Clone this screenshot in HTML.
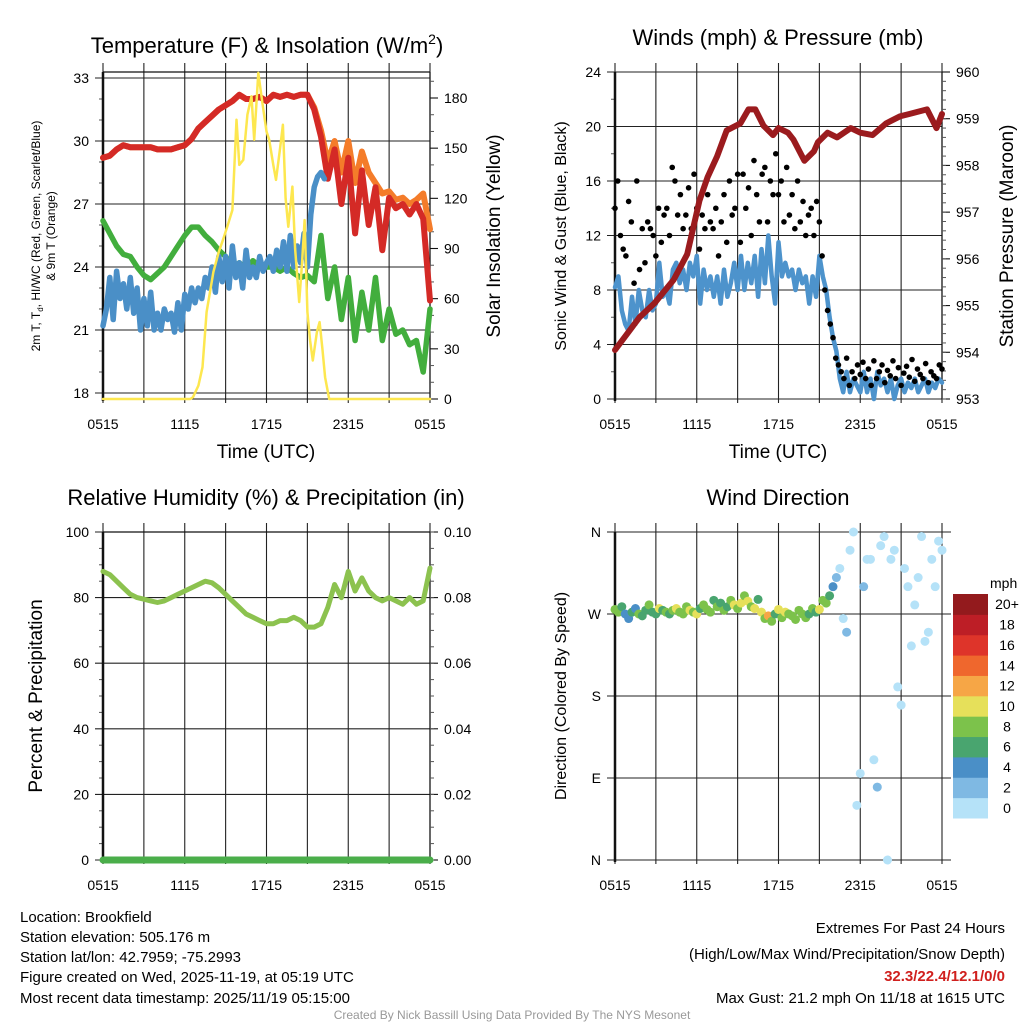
<!DOCTYPE html>
<html><head><meta charset="utf-8">
<style>
html,body{margin:0;padding:0;background:#fff;}
svg{display:block;font-family:"Liberation Sans",Arial,sans-serif;}
</style></head>
<body>
<svg id="fig" width="1024" height="1024" viewBox="0 0 1024 1024" xmlns="http://www.w3.org/2000/svg">
<rect width="1024" height="1024" fill="#fff"/>
<g id="p1"></g>
<g id="p2"></g>
<g id="p3"></g>
<g id="p4"></g>

<text x="267" y="53" font-size="22" text-anchor="middle">Temperature (F) &amp; Insolation (W/m<tspan dy="-9" font-size="14">2</tspan><tspan dy="9">)</tspan></text>
<text x="778" y="45" font-size="22" text-anchor="middle">Winds (mph) &amp; Pressure (mb)</text>
<text x="266" y="505" font-size="22" text-anchor="middle">Relative Humidity (%) &amp; Precipitation (in)</text>
<text x="778" y="505" font-size="22" text-anchor="middle">Wind Direction</text>

<text x="266" y="458" font-size="19" text-anchor="middle">Time (UTC)</text>
<text x="778" y="458" font-size="19" text-anchor="middle">Time (UTC)</text>

<g font-size="12" text-anchor="middle">
<text transform="translate(40,236) rotate(-90)">2m T, T<tspan font-size="8" dy="3">d</tspan><tspan dy="-3">, HI/WC (Red, Green, Scarlet/Blue)</tspan></text>
<text transform="translate(55,236) rotate(-90)">&amp; 9m T (Orange)</text>
</g>
<text transform="translate(500,236) rotate(-90)" font-size="19" text-anchor="middle">Solar Insolation (Yellow)</text>
<text transform="translate(566,236) rotate(-90)" font-size="16" text-anchor="middle">Sonic Wind &amp; Gust (Blue, Black)</text>
<text transform="translate(1013,236) rotate(-90)" font-size="19" text-anchor="middle">Station Pressure (Maroon)</text>
<text transform="translate(42,696) rotate(-90)" font-size="19" text-anchor="middle">Percent &amp; Precipitation</text>
<text transform="translate(566,696) rotate(-90)" font-size="16" text-anchor="middle">Direction (Colored By Speed)</text>

<g font-size="15">
<text x="20" y="922">Location: Brookfield</text>
<text x="20" y="942">Station elevation: 505.176 m</text>
<text x="20" y="962">Station lat/lon: 42.7959; -75.2993</text>
<text x="20" y="982">Figure created on Wed, 2025-11-19, at 05:19 UTC</text>
<text x="20" y="1003">Most recent data timestamp: 2025/11/19 05:15:00</text>
</g>
<g font-size="15" text-anchor="end">
<text x="1005" y="933">Extremes For Past 24 Hours</text>
<text x="1005" y="959">(High/Low/Max Wind/Precipitation/Snow Depth)</text>
<text x="1005" y="981" fill="#d0201e" font-weight="bold">32.3/22.4/12.1/0/0</text>
<text x="1005" y="1003">Max Gust: 21.2 mph On 11/18 at 1615 UTC</text>
</g>
<text x="512" y="1019" font-size="12" fill="#999" text-anchor="middle">Created By Nick Bassill Using Data Provided By The NYS Mesonet</text>
<g id="cbar"></g>
</svg>
<script>
// ---------- data ----------
const xTickLabels = ["0515","1115","1715","2315","0515"];
const tempTicks = [18,21,24,27,30,33];
const insolTicks = [0,30,60,90,120,150,180];
const windTicks = [0,4,8,12,16,20,24];
const presTicks = [953,954,955,956,957,958,959,960];
const rhTicks = [0,20,40,60,80,100];
const precipTicks = ["0.00","0.02","0.04","0.06","0.08","0.10"];
const dirTickLabels = ["N","E","S","W","N"];
const speedBinLabels = ["0","2","4","6","8","10","12","14","16","18","20+"];

// temperatures, evenly spaced over 24 h
const tempRed = [29.2,29.3,29.6,29.8,29.7,29.7,29.7,29.7,29.6,29.6,29.6,29.7,29.8,30.1,30.6,30.9,31.2,31.5,31.7,31.9,32.2,32.0,32.0,32.1,31.9,32.2,32.1,32.2,32.1,32.2,32.2,31.5,30.2,28.2,29.6,27.0,29.2,25.6,28.6,26.0,27.8,24.8,27.3,26.8,27.0,26.5,27.0,26.3,22.4];
const temp9m = [29.2,29.3,29.6,29.8,29.7,29.7,29.7,29.7,29.6,29.6,29.6,29.7,29.8,30.1,30.6,30.9,31.2,31.5,31.7,31.9,32.2,32.0,32.0,32.1,31.9,32.2,32.1,32.2,32.1,32.2,32.2,31.6,30.5,29.0,30.0,28.5,30.0,28.0,29.5,28.5,28.0,27.5,27.6,27.2,27.3,27.0,27.2,27.5,25.8];
const dewGreen = [26.2,25.6,25.0,24.6,24.5,24.0,23.6,23.4,23.7,24.0,24.5,25.0,25.5,25.9,25.9,25.5,25.2,24.8,24.5,24.0,24.2,23.9,24.3,24.0,24.0,24.0,23.8,24.0,23.7,23.5,23.6,23.3,25.5,22.5,24,21.5,23.5,20.5,22.8,21,23.5,20.5,22,20.8,21,20.3,20.5,19,22];
// wind chill (blue), 0.25 h steps from 0515
const chillBlue = [21.2,22,23.5,21.5,23.8,22.5,23.2,22,23.5,21.8,23,21,22.5,21.2,22.8,21,21.8,21,22,21.5,21.8,20.9,22.3,21,22.7,22,23,22.3,23,22.5,23.5,23,24,22.8,24.5,23.3,24.5,23,25,23.5,24.2,23,24.8,23.5,24,23.5,24.5,23.8,24.2,24.5,23.8,24.8,24,25.2,23.8,25.5,24,25,24.2,25.6,24,26.5,27.8,28.3,28.5,28.2];
const insolHours = [0,6.4,6.6,7.0,7.3,7.6,8.1,8.5,8.8,9.2,9.5,9.8,10.0,10.3,10.6,10.9,11.1,11.4,11.7,12.0,12.2,12.5,12.7,13.0,13.2,13.4,13.6,13.9,14.1,14.4,14.6,14.8,15.0,15.2,15.4,15.7,15.9,16.1,16.3,16.6,24];
const insolVals = [0,0,1,8,19,52,76,88,95,105,113,167,140,143,170,181,155,195,177,160,155,140,131,150,164,120,103,127,90,58,80,107,52,35,23,40,46,30,13,0,0];

// winds, 0.25 h steps
const windSpeed = [8.2,9,6.5,5.5,5,7.5,5.5,8,6.5,6,8,6.5,7,10,7.5,8,7,9.5,10,8.5,9.5,8,10,9,10.5,7,9.5,8,9,7.5,9,7,9.5,7.5,8.5,10,8,10.5,8,10,8.5,10.5,7.5,11,8.5,12,9,7,11.5,9,10,9,9.5,8,9.5,8.5,9,7,9,7.5,10.5,9,8,6,4.5,3.5,1.5,0.5,2,0.5,1.5,1,0.5,2,0.5,1.5,0,2,1,1.5,0.5,1.5,0,1,1.5,0.5,1.2,0.8,1.5,0.5,1,1.5,0.5,1.2,0.8,1.5,1.2];
// gusts, 0.2 h steps
const windGust = [14,16,12,11,10.5,14.5,13,8.5,16,9.5,12.5,10,13,12.5,12,10.5,14,11.5,13.5,14,12,17,16,13.5,15,12.5,13.5,15.5,12.5,16.5,14,11,13.5,12.5,15,13,12.5,14,10.5,13,15,11.5,16,13.5,14,16.5,11.5,16.5,14,15.5,12,17.5,15,13,16.5,17,13,16,15,18,15,16,13,17,13.5,15,12.5,16,13,14.5,12,13.5,14,12,14.5,13,10.5,8,6.5,5.5,4.5,3,2.5,2,1.5,3,1,2,1.5,2.5,1.8,2.7,1.5,2.2,1,2.8,1.5,2,2.5,1.2,2.1,1.7,2.8,1.5,2.3,1,1.9,2.4,1.6,2.9,1.3,2.2,1.8,1.5,2.6,1.2,2,1.7,1.5,2.5,2.2];
const presHours = [0,1.8,2.9,4.3,5.3,6.2,6.8,7.5,8.2,9.2,9.8,10.3,10.9,11.6,12.0,12.7,13.1,13.9,14.6,14.9,15.6,16.3,17.3,18.0,18.9,19.9,20.9,21.6,22.9,23.6,24];
const presVals = [954.05,954.75,955.05,955.55,956.1,957.25,957.75,958.2,958.75,958.9,959.2,959.2,958.85,958.65,958.8,958.7,958.55,958.1,958.3,958.5,958.7,958.6,958.8,958.7,958.65,958.9,959.05,959.1,959.2,958.8,959.1];

// humidity, 0.5 h steps
const rhVals = [88,87,85,83,81,80,79.5,79,78.5,79,80,81,82,83,84,85,84.5,83,81,79,77,75,74,73,72,72,73,73,74,73,71,71,72,77,84,80,88,82,86,82,80,79,80,79,78,80,78,79,89];
const precipVals = [0,0,0,0,0,0,0,0,0,0,0,0,0];

// wind direction (deg), 0.25 h steps; colored by windSpeed
const windDir = [275,272,278,270,265,272,276,270,268,274,280,272,270,276,274,272,270,274,276,272,270,278,274,272,270,276,280,275,272,285,278,282,274,278,285,280,276,282,290,284,278,276,286,272,265,268,262,270,275,266,272,270,268,264,274,270,266,270,276,272,275,285,282,290,300,310,320,265,250,340,360,60,95,300,330,330,110,80,345,355,0,330,340,190,170,320,300,235,280,310,355,240,250,330,300,350,340];

const binColors = ["#b5e2f8","#7fb9e3","#4a8fc7","#49a56f","#7cc24b","#e6e05a","#f6a646","#ef672d","#de342a","#bd1e26","#931a1d"];

// ---------- helpers ----------
const NS="http://www.w3.org/2000/svg";
function mk(parent,tag,attrs){const e=document.createElementNS(NS,tag);for(const k in attrs)e.setAttribute(k,attrs[k]);parent.appendChild(e);return e;}

function frame(g,X0,X1,Y0,Y1,leftTicks,leftScale,leftLabels,rightTicks,rightScale,rightLabels,opts){
  const xs=h=>X0+h*(X1-X0)/24;
  for(let h=0;h<=24;h+=3){
    const l=mk(g,'line',{x1:xs(h),x2:xs(h),y1:Y0-9,y2:Y1+4,stroke:'#222','stroke-width':1.1});
    
    
  }
  xTickLabels.forEach((s,i)=>{
    const t=mk(g,'text',{x:xs(i*6),y:Y1+30,'font-size':14,'text-anchor':'middle'});
    t.textContent=s;
    
    
  });
  leftTicks.forEach((v,i)=>{
    const y=leftScale(v);
    const l=mk(g,'line',{x1:X0-8,x2:X1+(opts.extend||0),y1:y,y2:y,stroke:'#222','stroke-width':1.1});
    
    
    const t=mk(g,'text',{x:X0-14,y:y+5,'font-size':14,'text-anchor':'end'});
    t.textContent=leftLabels[i];
    
    
  });
  if(opts.minorLeft){opts.minorLeft.forEach(v=>{const y=leftScale(v);mk(g,'line',{x1:X0-4,x2:X0,y1:y,y2:y,stroke:'#555','stroke-width':1});});}
  if(rightTicks){
    mk(g,'line',{x1:X1,x2:X1,y1:Y0,y2:Y1,stroke:'#111','stroke-width':1.2});
    rightTicks.forEach((v,i)=>{
      const y=rightScale(v);
      mk(g,'line',{x1:X1,x2:X1+8,y1:y,y2:y,stroke:'#111','stroke-width':1.1});
      const t=mk(g,'text',{x:X1+14,y:y+5,'font-size':14});
      t.textContent=rightLabels[i];
      
      
    });
    if(opts.minorRight){opts.minorRight.forEach(v=>{const y=rightScale(v);mk(g,'line',{x1:X1,x2:X1+4,y1:y,y2:y,stroke:'#555','stroke-width':1});});}
  }
  if(opts.top) mk(g,'line',{x1:X0,x2:X1,y1:Y0,y2:Y0,stroke:'#111','stroke-width':1.2});
  mk(g,'line',{x1:X0,x2:X0,y1:Y0,y2:Y1+2,stroke:'#111','stroke-width':2.5});
  return xs;
}
function path(g,pts,stroke,w,name){
  const d=pts.map((p,i)=>(i?'L':'M')+p[0].toFixed(1)+' '+p[1].toFixed(1)).join(' ');
  const e=mk(g,'path',{d:d,fill:'none',stroke:stroke,'stroke-width':w,'stroke-linejoin':'round','stroke-linecap':'round'});
  
  
  return e;
}
const even=(arr)=>arr.map((v,i)=>[i*24/(arr.length-1),v]);
const stepped=(arr,st)=>arr.map((v,i)=>[i*st,v]);

// ---------- panel 1 ----------
(function(){
  const g=document.getElementById('p1');
  const X0=103,X1=430,Y0=72,Y1=399;
  const ty=v=>393-(v-18)*(315/15);
  const iy=v=>399-v*(301/180);
  const minorL=[];for(let v=18;v<=33;v++)if(v%3)minorL.push(v);
  const minorR=[];for(let v=0;v<=190;v+=10)if(v%30)minorR.push(v);
  const xs=frame(g,X0,X1,Y0,Y1,tempTicks,ty,tempTicks.map(String),insolTicks,iy,insolTicks.map(String),{top:true,minorLeft:minorL,minorRight:minorR});
  mk(g,'line',{x1:X0,x2:X1,y1:Y1,y2:Y1,stroke:'#111','stroke-width':1});
  path(g,even(temp9m).map(p=>[xs(p[0]),ty(p[1])]),'#f47c2a',6,'nine-meter-temp-line');
  path(g,even(tempRed).map(p=>[xs(p[0]),ty(p[1])]),'#d42a26',6,'two-meter-temp-line');
  path(g,even(dewGreen).map(p=>[xs(p[0]),ty(p[1])]),'#42ae3d',5.5,'dewpoint-line');
  path(g,stepped(chillBlue,0.25).map(p=>[xs(p[0]),ty(p[1])]),'#4a8fc7',5.5,'wind-chill-line');
  path(g,insolHours.map((h,i)=>[xs(h),iy(insolVals[i])]),'#fde74f',2.5,'insolation-line');
})();

// ---------- panel 2 ----------
(function(){
  const g=document.getElementById('p2');
  const X0=615,X1=942,Y0=72,Y1=399;
  const wy=v=>399-v*(327/24);
  const py=v=>399-(v-953)*(327/7);
  const minorL=[];for(let v=0;v<=24;v+=2)if(v%4)minorL.push(v);
  const minorR=[];for(let v=953;v<=960;v+=0.2)minorR.push(v);
  const xs=frame(g,X0,X1,Y0,Y1,windTicks,wy,windTicks.map(String),presTicks,py,presTicks.map(String),{minorLeft:minorL,minorRight:minorR});
  path(g,stepped(windSpeed,0.25).map(p=>[xs(p[0]),wy(p[1])]),'#4d93cc',4.5,'wind-speed-line');
  windGust.forEach((v,i)=>{
    const c=mk(g,'circle',{cx:xs(i*0.2),cy:wy(v),r:2.8,fill:'#000'});
    
    
  });
  path(g,presHours.map((h,i)=>[xs(h),py(presVals[i])]),'#9b1b1e',6,'pressure-line');
})();

// ---------- panel 3 ----------
(function(){
  const g=document.getElementById('p3');
  const X0=103,X1=430,Y0=532,Y1=860;
  const ry=v=>860-v*(328/100);
  const qy=v=>860-v*(328/0.10);
  const minorL=[];for(let v=0;v<=100;v+=5)if(v%20)minorL.push(v);
  const minorR=[];for(let v=0;v<=0.1001;v+=0.005)minorR.push(v);
  const xs=frame(g,X0,X1,Y0,Y1,rhTicks,ry,rhTicks.map(String),precipTicks.map(Number),qy,precipTicks,{top:true,minorLeft:minorL,minorRight:minorR});
  path(g,even(rhVals).map(p=>[xs(p[0]),ry(p[1])]),'#8cc24f',5,'humidity-line');
  path(g,even(precipVals).map(p=>[xs(p[0]),qy(p[1])]),'#4aae4a',7,'precipitation-line');
})();

// ---------- panel 4 ----------
(function(){
  const g=document.getElementById('p4');
  const X0=615,X1=942,Y0=532,Y1=860;
  const dy=v=>860-v*(328/360);
  const dirTicks=[0,90,180,270,360];
  const xs=frame(g,X0,X1,Y0,Y1,dirTicks,dy,dirTickLabels,null,null,null,{extend:9});
  windDir.forEach((d,i)=>{
    const s=windSpeed[i];
    const bin=Math.min(10,Math.max(0,Math.floor(s/2)));
    const c=mk(g,'circle',{cx:xs(i*0.25),cy:dy(d),r:4.5,fill:binColors[bin]});
    
    
  });
})();

// ---------- colorbar ----------
(function(){
  const g=document.getElementById('cbar');
  const X=953,W=35,Ytop=594,H=224,n=speedBinLabels.length,h=H/n;
  const t0=mk(g,'text',{x:990,y:588,'font-size':14});
  t0.textContent='mph';
  
  
  speedBinLabels.forEach((lab,i)=>{
    const k=n-1-i;
    const y=Ytop+k*h;
    const r=mk(g,'rect',{x:X,y:y,width:W,height:h+0.5,fill:binColors[i]});
    
    
    const t=mk(g,'text',{x:1007,y:y+h/2+5,'font-size':14,'text-anchor':'middle'});
    t.textContent=lab;
    
    
  });
})();
</script>
</body></html>
